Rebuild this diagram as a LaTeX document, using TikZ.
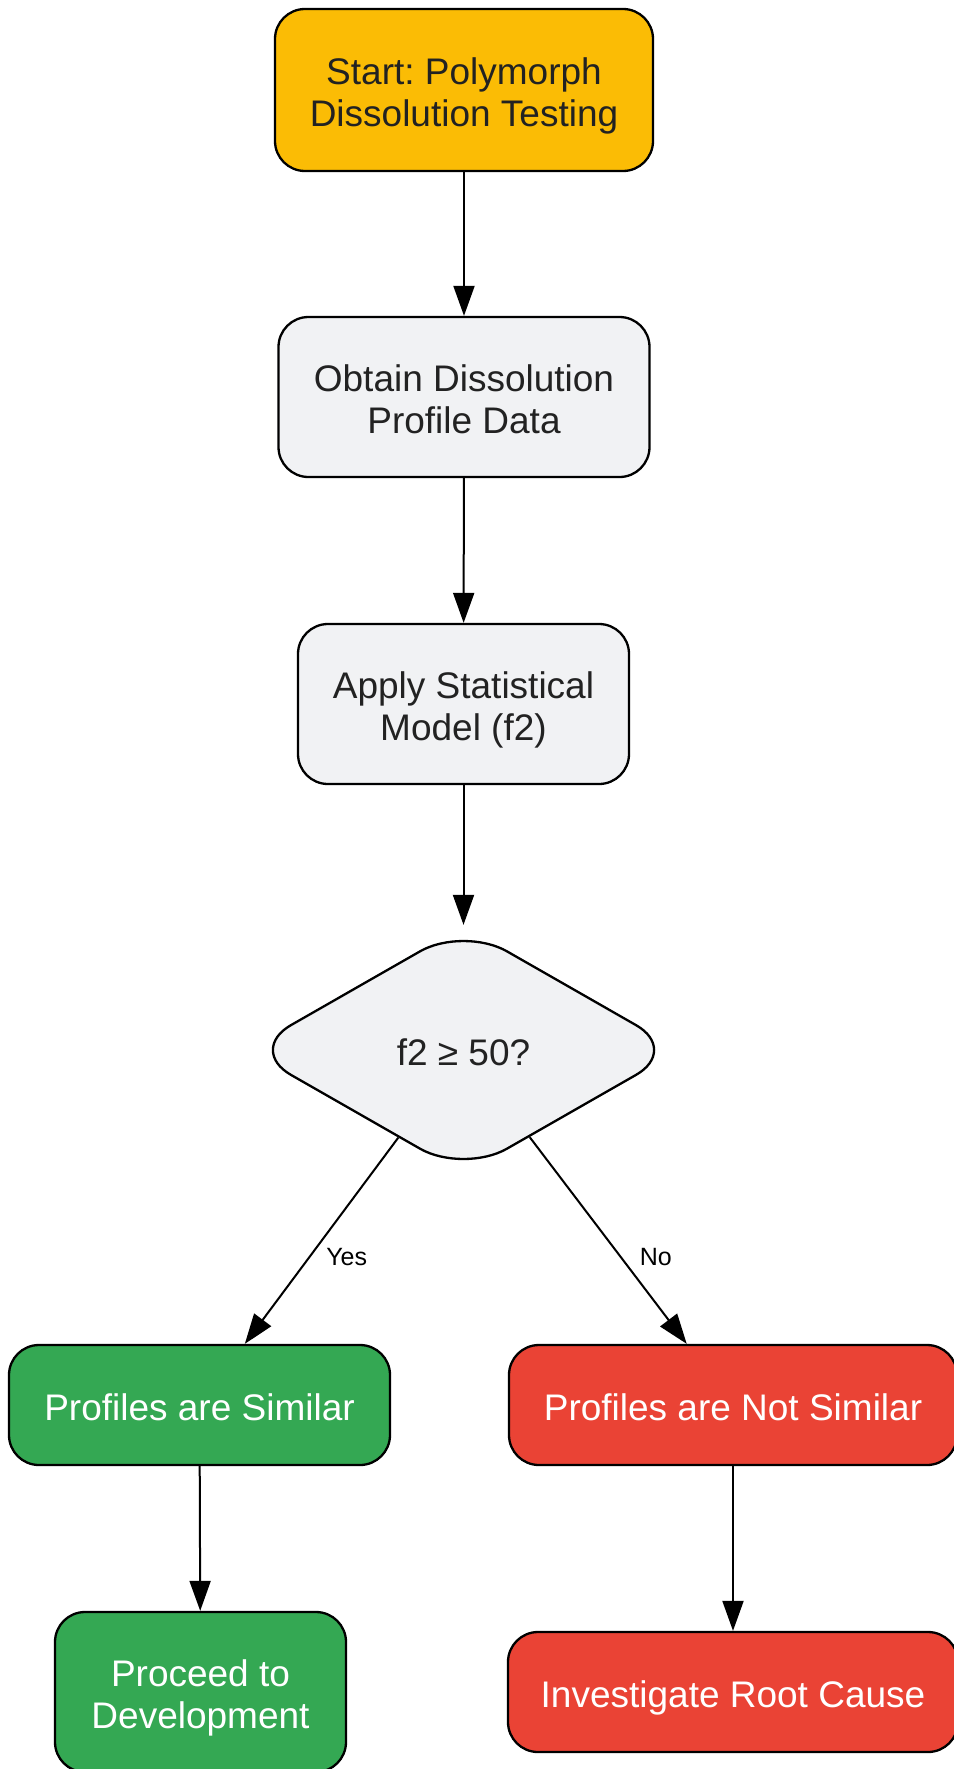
\documentclass[tikz,border=0pt]{standalone}
\usepackage{fontspec}
\setmainfont{Liberation Sans}
\frenchspacing
\usetikzlibrary{shapes.geometric,arrows.meta}
\definecolor{cyellow}{HTML}{FBBC05}
\definecolor{cgray}{HTML}{F1F2F4}
\definecolor{cgreen}{HTML}{34A853}
\definecolor{cred}{HTML}{EA4335}
\definecolor{ctext}{HTML}{222222}
\tikzset{
  box/.style={draw=black, line width=2.3pt, rounded corners=30pt, align=center,
    inner sep=0pt, font=\fontsize{37}{42}\selectfont\frenchspacing},
  oneline/.style={text height=40pt, text depth=10pt},
  twoline/.style={text height=80pt, text depth=8pt},
  graybox/.style={box, fill=cgray, text=ctext},
  startbox/.style={box, fill=cyellow, text=ctext},
  greenbox/.style={box, fill=cgreen, text=white},
  redbox/.style={box, fill=cred, text=white},
  decision/.style={diamond, draw=black, line width=2.3pt, fill=cgray, text=ctext,
    rounded corners=50pt, inner sep=0pt, minimum width=433pt, minimum height=248pt,
    aspect=1.746, font=\fontsize{37}{42}\selectfont, text height=40pt, text depth=10pt},
  conn/.style={draw=black, line width=2pt, -{Triangle[length=30pt,width=21pt]}},
  elabel/.style={font=\fontsize{25}{28}\selectfont, text=black, inner sep=0pt, anchor=west}
}
\begin{document}
\begin{tikzpicture}[x=1pt,y=-1pt]
\useasboundingbox (0,0) rectangle (953,1769);
\node[startbox, twoline, minimum width=378pt, minimum height=162pt] (s) at (464,90) {Start: Polymorph\\Dissolution Testing};
\node[graybox, twoline, minimum width=371pt, minimum height=160pt] (o) at (464,397) {Obtain Dissolution\\Profile Data};
\node[graybox, twoline, minimum width=331pt, minimum height=160pt] (a) at (463.5,704) {Apply Statistical\\Model (f2)};
\node[decision] (d) at (463.5,1050) {f2 ≥ 50?};
\node[greenbox, oneline, minimum width=381pt, minimum height=120pt] (sim) at (199.5,1405) {Profiles are Similar};
\node[redbox, oneline, minimum width=448pt, minimum height=120pt] (ns) at (733,1405) {Profiles are Not Similar};
\node[greenbox, twoline, minimum width=291pt, minimum height=160pt] (p) at (200.5,1692) {Proceed to\\Development};
\node[redbox, oneline, minimum width=450pt, minimum height=120pt] (inv) at (733,1692) {Investigate Root Cause};

\draw[conn] (s) -- (o);
\draw[conn] (o) -- (a);
\draw[conn] (a) -- (d);
\draw[conn] (d) -- node[elabel, pos=0.58, xshift=16pt] {Yes} (sim);
\draw[conn] (d) -- node[elabel, pos=0.58, xshift=18pt] {No} (ns);
\draw[conn] (sim) -- (p);
\draw[conn] (ns) -- (inv);
\end{tikzpicture}
\end{document}
